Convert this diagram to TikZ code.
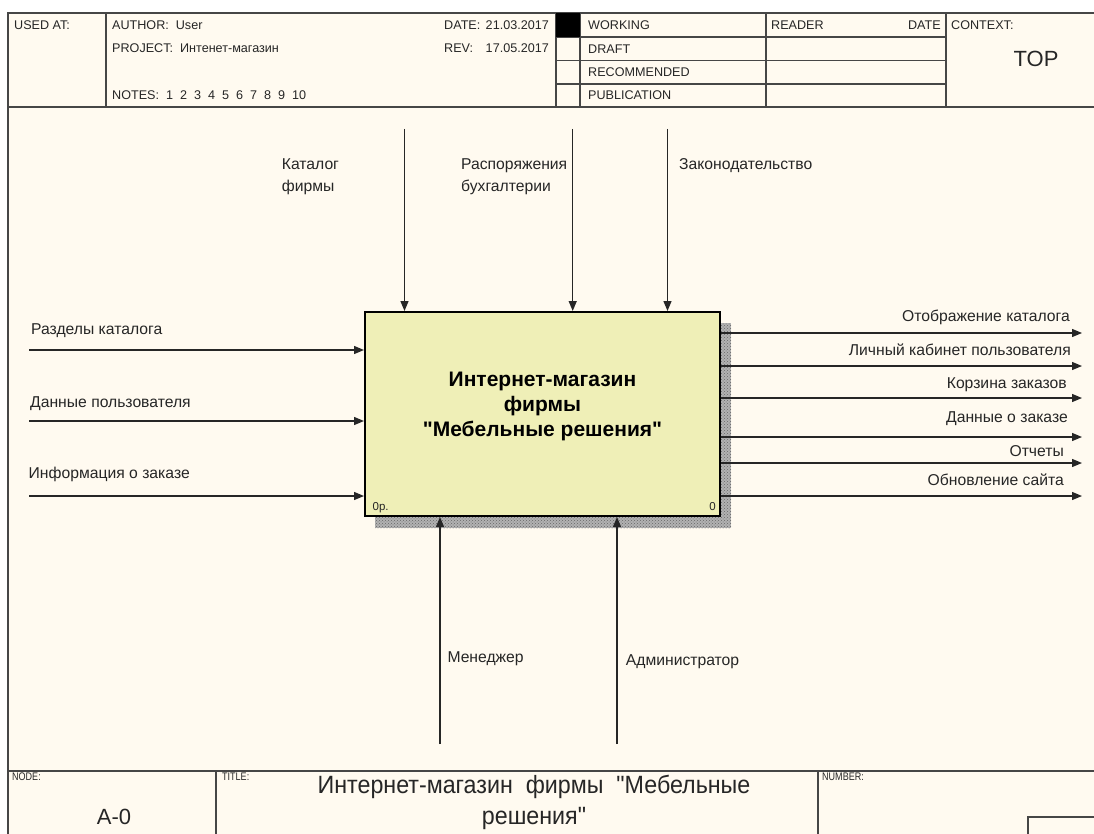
\documentclass[tikz,border=0pt]{standalone}
\usepackage{fontspec}
\setmainfont{Liberation Sans}[Ligatures=TeXOff]
\newfontfamily\narrowfont[FakeStretch=0.93,Ligatures=TeXOff]{Liberation Sans}
\newfontfamily\tinyfont[FakeStretch=0.82,Ligatures=TeXOff]{Liberation Sans}
\usetikzlibrary{arrows.meta,patterns}
\definecolor{bg}{RGB}{255,250,240}
\definecolor{boxfill}{RGB}{239,239,183}
\definecolor{frame}{RGB}{70,70,70}
\begin{document}
\begin{tikzpicture}[x=1pt,y=-1pt,
  frm/.style={draw=frame, line width=1.3pt},
  hdr/.style={font=\fontsize{12.6}{15}\selectfont, inner sep=0pt, text=black!85, anchor=base west},
  hdrr/.style={hdr, anchor=base east},
  lbl/.style={font=\fontsize{15.7}{22}\selectfont, inner sep=0pt, align=left, text=black!85, anchor=base west},
  rlbl/.style={lbl, align=right, anchor=base east},
  arr/.style={draw=black!85, line width=1.3pt, -{Triangle[length=10pt,width=8pt]}},
  tiny/.style={font=\tinyfont\fontsize{11}{12}\selectfont, inner sep=0pt, text=black!85, anchor=base west},
  corner/.style={font=\fontsize{11.5}{13}\selectfont, inner sep=0pt, text=black!85}]
\useasboundingbox (0,0) rectangle (1094,834);
\fill[white] (0,0) rectangle (1094,834);
\fill[bg] (8,13) rectangle (1094,834);
% header frame
\draw[frm] (8,834) -- (8,13) -- (1094,13);
\draw[frm] (8,107) -- (1094,107);
\foreach \x in {106,556,580,766,946} \draw[frm] (\x,13) -- (\x,107);
\foreach \y in {37,60.5,84} \draw[frm] (556,\y) -- (946,\y);
\fill[black] (556,13) rectangle (580,37);
% header texts
\node[hdr] (usedat) at (14,29.5) {USED AT:};
\node[hdr] (author) at (112,29.5) {AUTHOR:\ \ User};
\node[hdr] (project) at (112,52.7) {PROJECT:\ \ Интенет-магазин};
\node[hdr] (notes) at (112,100) {NOTES:\ \ 1\ \ 2\ \ 3\ \ 4\ \ 5\ \ 6\ \ 7\ \ 8\ \ 9\ \ 10};
\node[hdr] (datel) at (444,29.5) {DATE:};
\node[hdrr] (datev) at (549,29.5) {21.03.2017};
\node[hdr] (revl) at (444,52.7) {REV:};
\node[hdrr] (revv) at (549,52.7) {17.05.2017};
\node[hdr] (working) at (588,30) {WORKING};
\node[hdr] (draft) at (588,53.3) {DRAFT};
\node[hdr] (recom) at (588,76.7) {RECOMMENDED};
\node[hdr] (public) at (588,100) {PUBLICATION};
\node[hdr] (reader) at (771,30) {READER};
\node[hdrr] (rdate) at (941,30) {DATE};
\node[hdr] (context) at (951,30) {CONTEXT:};
\node[font=\fontsize{22}{26}\selectfont, inner sep=0pt, anchor=base, text=black!85] (top) at (1036,66.7) {TOP};
% footer
\draw[frm] (8,771) -- (1094,771);
\draw[frm] (216,771) -- (216,834);
\draw[frm] (818,771) -- (818,834);
\draw[frm] (1028,834) -- (1028,817) -- (1094,817);
\node[tiny] (nodel) at (12,780) {NODE:};
\node[tiny] (titlel) at (222,780) {TITLE:};
\node[tiny] (numberl) at (822,780) {NUMBER:};
\node[font=\fontsize{22}{25}\selectfont, inner sep=0pt, anchor=base, text=black!85] (nodeno) at (114,824) {A-0};
\node[font=\narrowfont\fontsize{25}{30.7}\selectfont, inner sep=0pt, anchor=base, align=center, text=black!85] (title) at (534,824) {Интернет-магазин\ \ фирмы\ \ "Мебельные\\решения"};
% main box
\fill[black!30] (375,323) rectangle (731,528);
\fill[pattern=crosshatch dots, pattern color=black!60] (375,323) rectangle (731,528);
\node[draw=black, line width=2pt, fill=boxfill, minimum width=355pt, minimum height=204pt, inner sep=0pt] (A0) at (542.5,414) {};
\node[font=\bfseries\fontsize{21}{25.3}\selectfont, inner sep=0pt, align=center, anchor=base] (A0t) at (542.5,436.7) {Интернет-магазин\\фирмы\\"Мебельные решения"};
\node[corner, anchor=base west] (cost) at (372.5,510) {0р.};
\node[corner, anchor=base east] (boxno) at (716,510) {0};
% inputs
\coordinate (in1) at (29,350);
\coordinate (in2) at (29,421);
\coordinate (in3) at (29,496);
\draw[arr] (in1) -- (in1 -| A0.west);
\draw[arr] (in2) -- (in2 -| A0.west);
\draw[arr] (in3) -- (in3 -| A0.west);
\node[lbl] (li1) at (31,334) {Разделы каталога};
\node[lbl] (li2) at (30,407) {Данные пользователя};
\node[lbl] (li3) at (28.5,478) {Информация о заказе};
% controls
\coordinate (c1) at (404.5,129);
\coordinate (c2) at (572.7,129);
\coordinate (c3) at (667.5,129);
\draw[arr] (c1) -- (c1 |- A0.north);
\draw[arr] (c2) -- (c2 |- A0.north);
\draw[arr] (c3) -- (c3 |- A0.north);
\node[lbl] (lc1) at (281.7,191.5) {Каталог\\фирмы};
\node[lbl] (lc2) at (461,192) {Распоряжения\\бухгалтерии};
\node[lbl] (lc3) at (679,169.5) {Законодательство};
% outputs
\coordinate (o1) at (1082,333);
\coordinate (o2) at (1082,366);
\coordinate (o3) at (1082,398);
\coordinate (o4) at (1082,437);
\coordinate (o5) at (1082,463);
\coordinate (o6) at (1082,496);
\foreach \o in {o1,o2,o3,o4,o5,o6} \draw[arr] (\o -| A0.east) -- (\o);
\node[rlbl] (lo1) at (1070,321.7) {Отображение каталога};
\node[rlbl] (lo2) at (1071,355) {Личный кабинет пользователя};
\node[rlbl] (lo3) at (1067,388.3) {Корзина заказов};
\node[rlbl] (lo4) at (1068,422) {Данные о заказе};
\node[rlbl] (lo5) at (1064,456.7) {Отчеты};
\node[rlbl] (lo6) at (1064,485) {Обновление сайта};
% mechanisms
\coordinate (m1) at (440,744);
\coordinate (m2) at (617,744);
\draw[arr] (m1) -- (m1 |- A0.south);
\draw[arr] (m2) -- (m2 |- A0.south);
\node[lbl] (lm1) at (447.3,662.7) {Менеджер};
\node[lbl] (lm2) at (625.7,665) {Администратор};
\end{tikzpicture}
\end{document}
